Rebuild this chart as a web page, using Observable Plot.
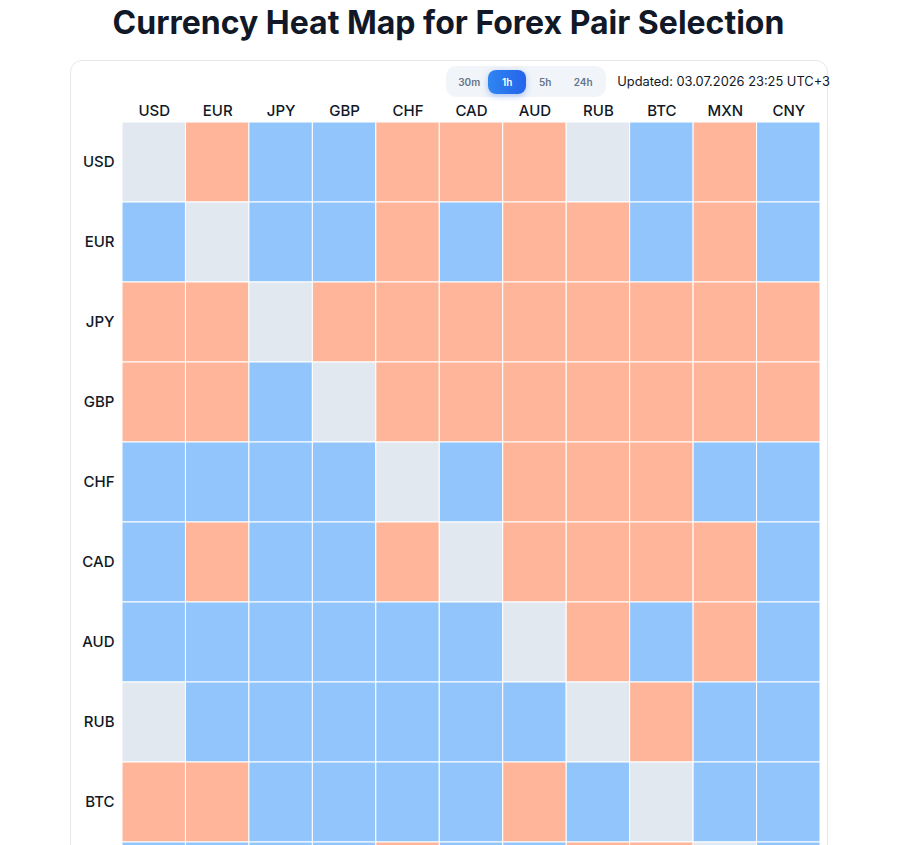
<!DOCTYPE html>
<html>
<head>
<meta charset="utf-8">
<script src="https://cdn.jsdelivr.net/npm/d3@7"></script>
<script src="https://cdn.jsdelivr.net/npm/@observablehq/plot@0.6"></script>
<style>
  html, body { margin: 0; padding: 0; background: #ffffff; font-family: Inter, "Noto Sans", sans-serif; overflow: hidden; }
  h1 { margin: 0; padding-top: 4px; padding-right: 15px; height: 56px; text-align: center; font-size: 32px; font-weight: 700; color: #111827; line-height: 38px; }
  .card { position: absolute; left: 70px; top: 60px; width: 756px; border: 1px solid #e5e7eb; border-radius: 12px; background: #fff; }
  .bar { display: flex; justify-content: flex-end; align-items: center; height: 31px; padding-top: 5px; }
  .seg { display: flex; align-items: center; background: #f1f5f9; border-radius: 10px; padding: 3px 4px; height: 25px; margin-right: 11px; }
  .seg span { font-size: 10px; font-weight: 600; color: #64748b; width: 38px; text-align: center; height: 24px; line-height: 24px; border-radius: 8px; }
  .seg span.on { background: linear-gradient(90deg, #2f86f0, #2563eb); color: #fff; box-shadow: 0 2px 6px rgba(37,99,235,0.35); }
  .upd { font-size: 12.85px; color: #111827; margin-right: -3px; white-space: nowrap; }
  #chart svg { display: block; }
</style>
</head>
<body>
<h1>Currency Heat Map for Forex Pair Selection</h1>
<div class="card">
  <div class="bar">
    <div class="seg"><span>30m</span><span class="on">1h</span><span>5h</span><span>24h</span></div>
    <div class="upd">Updated: 03.07.2026 23:25 UTC+3</div>
  </div>
  <div id="chart"></div>
</div>
<script>
const currencies = ["USD","EUR","JPY","GBP","CHF","CAD","AUD","RUB","BTC","MXN","CNY"];
// 1 = base stronger (blue), -1 = base weaker (orange), null = no data / same currency
const rowUSD = [null,-1, 1, 1,-1,-1,-1,null, 1,-1, 1];
const rowEUR = [ 1,null, 1, 1,-1, 1,-1,-1, 1,-1, 1];
const rowJPY = [-1,-1,null,-1,-1,-1,-1,-1,-1,-1,-1];
const rowGBP = [-1,-1, 1,null,-1,-1,-1,-1,-1,-1,-1];
const rowCHF = [ 1, 1, 1, 1,null, 1,-1,-1,-1, 1, 1];
const rowCAD = [ 1,-1, 1, 1,-1,null,-1,-1,-1,-1, 1];
const rowAUD = [ 1, 1, 1, 1, 1, 1,null,-1, 1,-1, 1];
const rowRUB = [null, 1, 1, 1, 1, 1, 1,null,-1, 1, 1];
const rowBTC = [-1,-1, 1, 1, 1, 1,-1, 1,null, 1, 1];
const rowMXN = [ 1, 1, 1, 1,-1, 1, 1,-1,-1,null, 1];
const rowCNY = [ 1, 1, 1, 1, 1, 1, 1, 1, 1, 1,null];
const rows = [rowUSD,rowEUR,rowJPY,rowGBP,rowCHF,rowCAD,rowAUD,rowRUB,rowBTC,rowMXN,rowCNY];

const cells = [];
rows.forEach((r, i) => r.forEach((v, j) => cells.push({
  base: currencies[i], quote: currencies[j],
  state: v === null ? "none" : (v > 0 ? "up" : "down")
})));

const chart = Plot.plot({
  width: 756,
  height: 909,
  marginLeft: 51,
  marginRight: 7,
  marginTop: 25,
  marginBottom: 4,
  style: { fontFamily: "Inter, 'Noto Sans', sans-serif", fontSize: "15px", color: "#1f2937", background: "transparent" },
  x: { domain: currencies, label: null, padding: 0, round: false },
  y: { domain: currencies, label: null, padding: 0, round: false },
  color: { domain: ["up","down","none"], range: ["#93c5fd","#ffb59a","#e2e8f0"] },
  marks: [
    Plot.cell(cells, { x: "quote", y: "base", fill: "state", stroke: "#ffffff", strokeWidth: 1 }),
    Plot.axisX({ anchor: "top", tickSize: 0, tickPadding: 7, fontSize: 15, fontWeight: 500, fill: "#111827", label: null }),
    Plot.axisY({ anchor: "left", tickSize: 0, tickPadding: 8, fontSize: 15, fontWeight: 500, fill: "#111827", label: null })
  ]
});
document.getElementById("chart").appendChild(chart);
</script>
</body>
</html>
